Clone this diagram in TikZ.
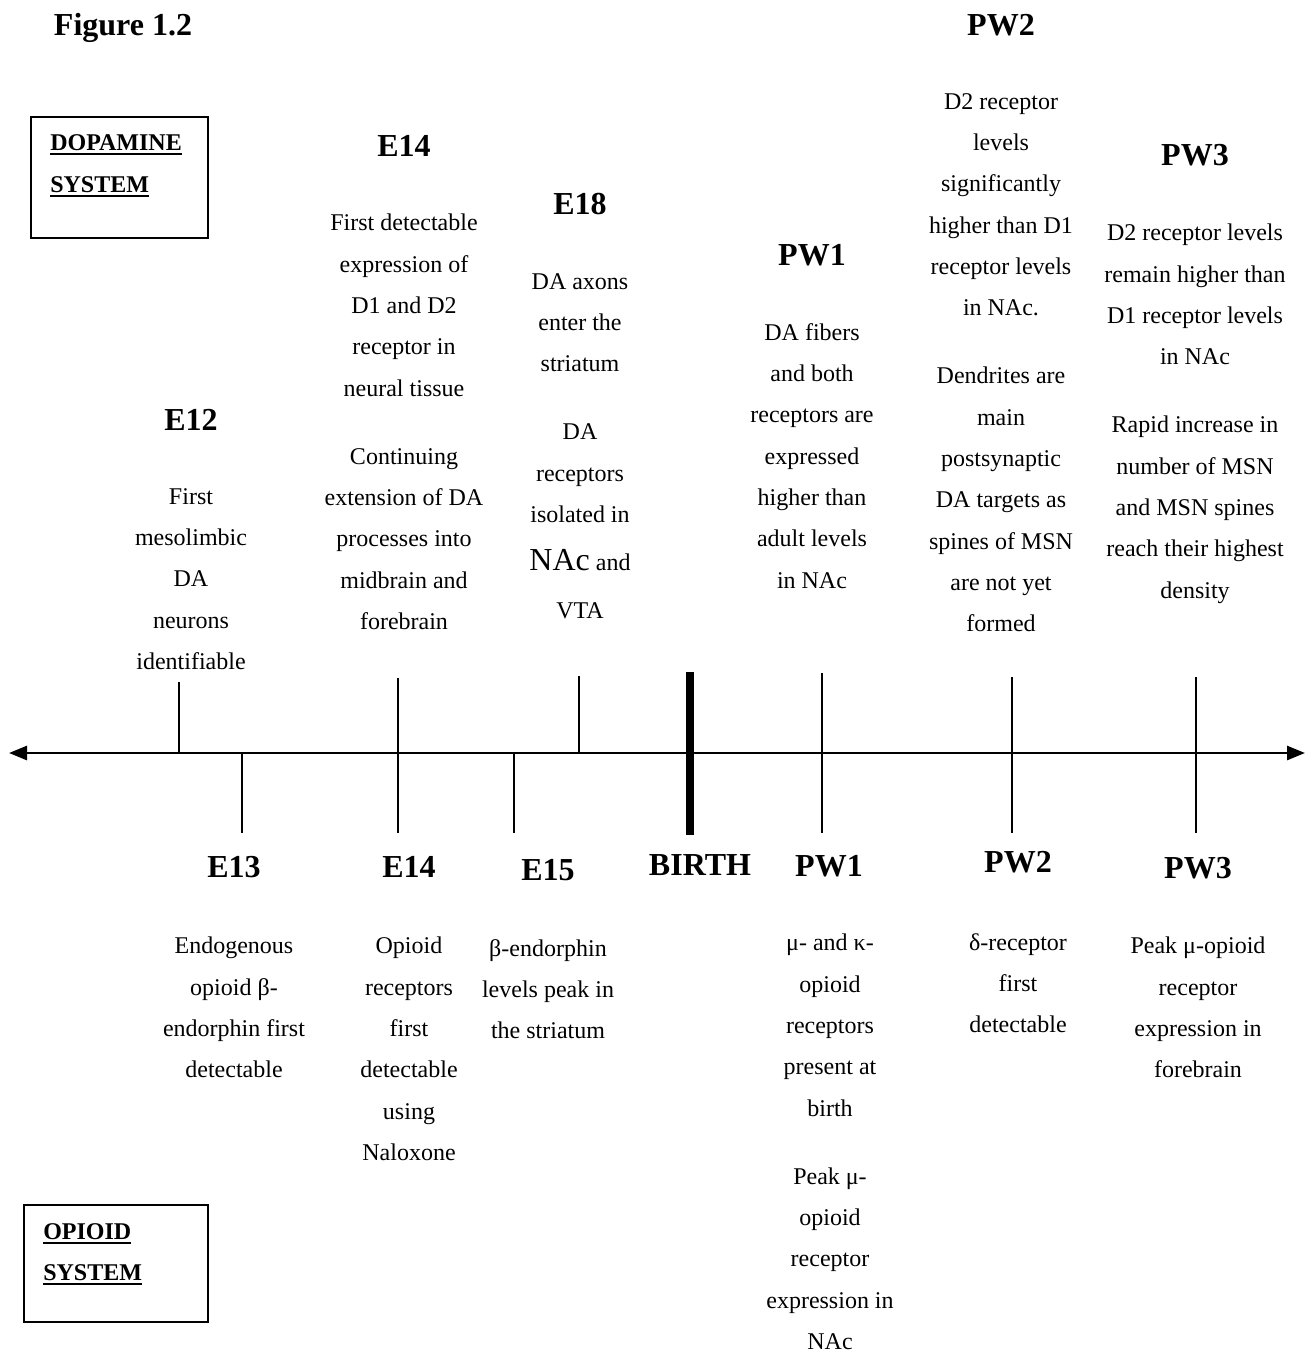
\documentclass[tikz,border=0pt]{standalone}
\usepackage{fontspec}
\setmainfont{Liberation Serif}
\usetikzlibrary{arrows.meta}
\newcommand\thickul[1]{\setbox0\hbox{#1}\rlap{\rule[-4pt]{\wd0}{2.1pt}}\box0}
\newcommand\bignac{{\fontsize{24}{31}\selectfont NAc}}
\begin{document}
\begin{tikzpicture}[x=0.75pt,y=-0.75pt,
  body/.style={font=\fontsize{18}{31}\selectfont, align=center, inner sep=0pt, anchor=north},
  lab/.style={font=\fontsize{24}{28}\selectfont\bfseries, inner sep=0pt, anchor=base},
  boxlab/.style={font=\fontsize{18}{22}\selectfont\bfseries, inner sep=0pt, anchor=base west},
  frame/.style={draw, line width=1.5pt, inner sep=0pt, anchor=north west},
  tickline/.style={line width=1.1pt},
  axisline/.style={line width=2pt, {Triangle[length=13.5pt,width=10.5pt]}-{Triangle[length=13.5pt,width=10.5pt]}},
  birthline/.style={line width=6pt}
]
\useasboundingbox (0,0) rectangle (1312,1353);

% system boxes
\node[frame, minimum width=132.75pt, minimum height=90.75pt] (dbox) at (30,116) {};
\node[boxlab] (dl1) at (50,150) {\thickul{DOPAMINE}};
\node[boxlab] (dl2) at (50,192) {\thickul{SYSTEM}};
\node[frame, minimum width=138pt, minimum height=87.75pt] (obox) at (23,1204) {};
\node[boxlab] (ol1) at (43,1239) {\thickul{OPIOID}};
\node[boxlab] (ol2) at (43,1280) {\thickul{SYSTEM}};

% title
\node[lab] (title) at (123,35.5) {Figure 1.2};

% axis
\coordinate (axL) at (9,753);
\coordinate (axR) at (1305,753);
\draw[axisline] (axL) -- (axR);

% tick coordinates
\coordinate (e12a) at (179,682);  \coordinate (e12b) at (179,753);
\coordinate (e13a) at (242,753);  \coordinate (e13b) at (242,833);
\coordinate (e14a) at (398,678);  \coordinate (e14b) at (398,833);
\coordinate (e15a) at (514,753);  \coordinate (e15b) at (514,833);
\coordinate (e18a) at (579,676);  \coordinate (e18b) at (579,753);
\coordinate (bira) at (690,672);  \coordinate (birb) at (690,835);
\coordinate (pw1a) at (822,673);  \coordinate (pw1b) at (822,833);
\coordinate (pw2a) at (1012,677); \coordinate (pw2b) at (1012,833);
\coordinate (pw3a) at (1196,677); \coordinate (pw3b) at (1196,833);
\draw[tickline] (e12a) -- (e12b);
\draw[tickline] (e13a) -- (e13b);
\draw[tickline] (e14a) -- (e14b);
\draw[tickline] (e15a) -- (e15b);
\draw[tickline] (e18a) -- (e18b);
\draw[birthline] (bira) -- (birb);
\draw[tickline] (pw1a) -- (pw1b);
\draw[tickline] (pw2a) -- (pw2b);
\draw[tickline] (pw3a) -- (pw3b);

% upper (dopamine) labels
\node[lab] (uE12) at (191,430) {E12};
\node[lab] (uE14) at (404,156) {E14};
\node[lab] (uE18) at (580,214) {E18};
\node[lab] (uPW1) at (812,265) {PW1};
\node[lab] (uPW2) at (1001,35.5) {PW2};
\node[lab] (uPW3) at (1195,165) {PW3};

\node[body] (tE12) at (191,488) {First\\mesolimbic\\DA\\neurons\\identifiable};
\node[body] (tE14) at (404,214) {First detectable\\expression of\\D1 and D2\\receptor in\\neural tissue\\[20pt]Continuing\\extension of DA\\processes into\\midbrain and\\forebrain};
\node[body] (tE18) at (580,273) {DA axons\\enter the\\striatum\\[20pt]DA\\receptors\\isolated in\\[5pt]\bignac{} and\\[5pt]VTA};
\node[body] (tPW1) at (812,323) {DA fibers\\and both\\receptors are\\expressed\\higher than\\adult levels\\in NAc};
\node[body] (tPW2) at (1001,93) {D2 receptor\\levels\\significantly\\higher than D1\\receptor levels\\in NAc.\\[20pt]Dendrites are\\main\\postsynaptic\\DA targets as\\spines of MSN\\are not yet\\formed};
\node[body] (tPW3) at (1195,224) {D2 receptor levels\\remain higher than\\D1 receptor levels\\in NAc\\[20pt]Rapid increase in\\number of MSN\\and MSN spines\\reach their highest\\density};

% lower (opioid) labels
\node[lab] (lE13) at (234,877) {E13};
\node[lab] (lE14) at (409,877) {E14};
\node[lab] (lE15) at (548,880) {E15};
\node[lab] (lBIR) at (700,875) {BIRTH};
\node[lab] (lPW1) at (829,876) {PW1};
\node[lab] (lPW2) at (1018,872) {PW2};
\node[lab] (lPW3) at (1198,878) {PW3};

\node[body] (bE13) at (234,937) {Endogenous\\opioid β-\\endorphin first\\detectable};
\node[body] (bE14) at (409,937) {Opioid\\receptors\\first\\detectable\\using\\Naloxone};
\node[body] (bE15) at (548,939) {β-endorphin\\levels peak in\\the striatum};
\node[body] (bPW1) at (830,934) {μ- and κ-\\opioid\\receptors\\present at\\birth\\[20pt]Peak μ-\\opioid\\receptor\\expression in\\NAc};
\node[body] (bPW2) at (1018,933) {δ-receptor\\first\\detectable};
\node[body] (bPW3) at (1198,937) {Peak μ-opioid\\receptor\\expression in\\forebrain};
\end{tikzpicture}
\end{document}
